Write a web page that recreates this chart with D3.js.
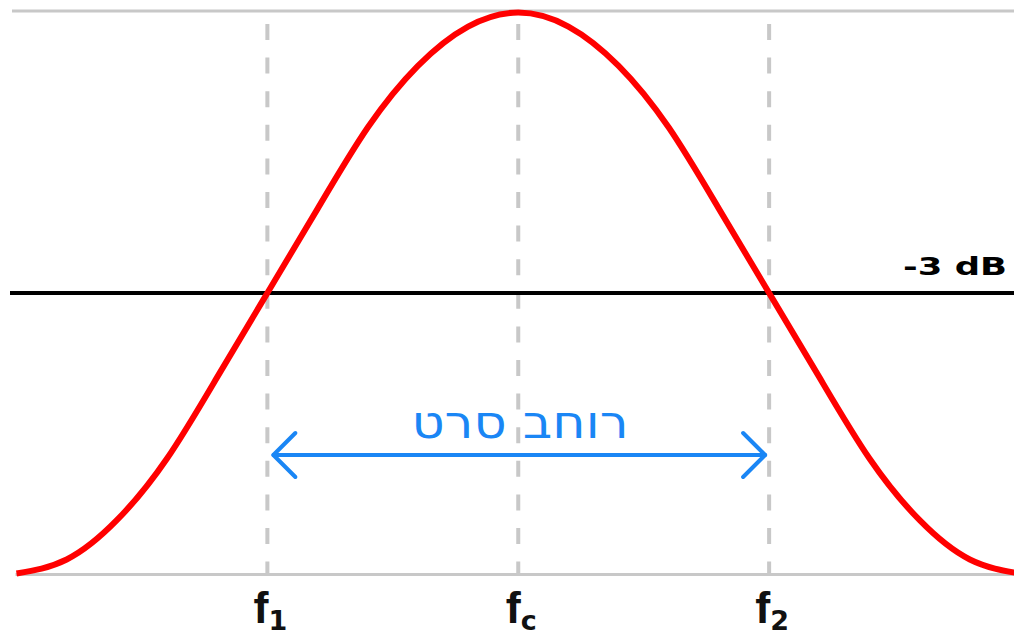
<!DOCTYPE html>
<html>
<head>
<meta charset="utf-8">
<script src="https://cdn.jsdelivr.net/npm/d3@7"></script>
<style>
  html, body { margin: 0; padding: 0; background: #fff; }
  svg { display: block; }
</style>
</head>
<body>
<div id="chart"></div>
<script>
// response curve (frequency units, relative level 0..1)
var freqs  = [0, 1, 2, 3, 4, 5, 6, 7, 8, 9, 10, 11, 12, 13, 14, 15, 16, 17, 18, 19, 20];
var levels = [0, 0.025, 0.095, 0.205, 0.35, 0.5, 0.65, 0.795, 0.905, 0.975, 1,
              0.975, 0.905, 0.795, 0.65, 0.5, 0.35, 0.205, 0.095, 0.025, 0];
// marked frequencies and their labels
var markFreqs = [5, 10, 15];
var markNames = ['f', 'f', 'f'];
var markSubs  = ['1', 'c', '2'];
var cutoffLevel = 0.5;
var cutoffLabel = '-3 dB';
var bandLabel = 'רוחב סרט';

var width = 1014, height = 635;
var blue = '#1a86f5', grey = '#c8c8c8';

var svg = d3.select('#chart').append('svg')
  .attr('width', width)
  .attr('height', height);

var x = d3.scaleLinear().domain([0, 20]).range([16.5, 1020]);
var y = d3.scaleLinear().domain([0, 1]).range([573.5, 12.5]);

// frame lines
svg.append('line')
  .attr('x1', 12).attr('x2', width)
  .attr('y1', y(1) - 1.5).attr('y2', y(1) - 1.5)
  .attr('stroke', grey).attr('stroke-width', 3);
svg.append('line')
  .attr('x1', x(0) - 1).attr('x2', width)
  .attr('y1', y(0) + 1).attr('y2', y(0) + 1)
  .attr('stroke', grey).attr('stroke-width', 3);

// dashed markers
svg.selectAll('.mark')
  .data(markFreqs)
  .enter().append('line')
  .attr('class', 'mark')
  .attr('x1', function(d) { return x(d); })
  .attr('x2', function(d) { return x(d); })
  .attr('y1', y(1) + 11.5)
  .attr('y2', y(0))
  .attr('stroke', grey)
  .attr('stroke-width', 4)
  .attr('stroke-dasharray', '16,17.6');

// -3 dB line
svg.append('line')
  .attr('x1', 10).attr('x2', width)
  .attr('y1', y(cutoffLevel)).attr('y2', y(cutoffLevel))
  .attr('stroke', '#000').attr('stroke-width', 4);

svg.append('text')
  .attr('x', 1007)
  .attr('y', y(cutoffLevel) - 18)
  .attr('text-anchor', 'end')
  .attr('font-family', 'DejaVu Sans')
  .attr('font-weight', 'bold')
  .attr('font-size', 25)
  .attr('textLength', 104)
  .attr('lengthAdjust', 'spacingAndGlyphs')
  .text(cutoffLabel);

// response curve
var curve = freqs.map(function(f, i) { return {f: f, v: levels[i]}; });
var line = d3.line()
  .x(function(d) { return x(d.f); })
  .y(function(d) { return y(d.v); })
  .curve(d3.curveNatural);

svg.append('path')
  .datum(curve)
  .attr('d', line)
  .attr('fill', 'none')
  .attr('stroke', '#ff0000')
  .attr('stroke-width', 6);

// bandwidth arrow
var ay = 455;
var ax1 = x(markFreqs[0]) + 6, ax2 = x(markFreqs[2]) - 4;
var arm = 22;
var g = svg.append('g')
  .attr('stroke', blue)
  .attr('stroke-width', 4)
  .attr('fill', 'none')
  .attr('stroke-linecap', 'round')
  .attr('stroke-linejoin', 'round');
g.append('line').attr('x1', ax1).attr('x2', ax2).attr('y1', ay).attr('y2', ay);
g.append('path').attr('d', 'M' + (ax1 + arm) + ',' + (ay - arm) + 'L' + ax1 + ',' + ay + 'L' + (ax1 + arm) + ',' + (ay + arm));
g.append('path').attr('d', 'M' + (ax2 - arm) + ',' + (ay - arm) + 'L' + ax2 + ',' + ay + 'L' + (ax2 - arm) + ',' + (ay + arm));

svg.append('text')
  .attr('x', 520)
  .attr('y', 438)
  .attr('text-anchor', 'middle')
  .attr('font-family', 'DejaVu Sans')
  .attr('font-size', 45)
  .attr('fill', blue)
  .attr('textLength', 217)
  .attr('lengthAdjust', 'spacingAndGlyphs')
  .text(bandLabel);

// frequency labels
var labels = svg.selectAll('.flabel')
  .data(markFreqs)
  .enter().append('text')
  .attr('class', 'flabel')
  .attr('x', function(d) { return x(d) + 3; })
  .attr('y', 623)
  .attr('text-anchor', 'middle')
  .attr('font-family', 'Liberation Sans')
  .attr('font-weight', 'bold')
  .attr('font-size', 45)
  .attr('fill', '#111');
labels.append('tspan')
  .text(function(d, i) { return markNames[i]; });
labels.append('tspan')
  .attr('dy', 7)
  .attr('font-size', 27)
  .attr('font-family', 'DejaVu Sans')
  .text(function(d, i) { return markSubs[i]; });
</script>
</body>
</html>
